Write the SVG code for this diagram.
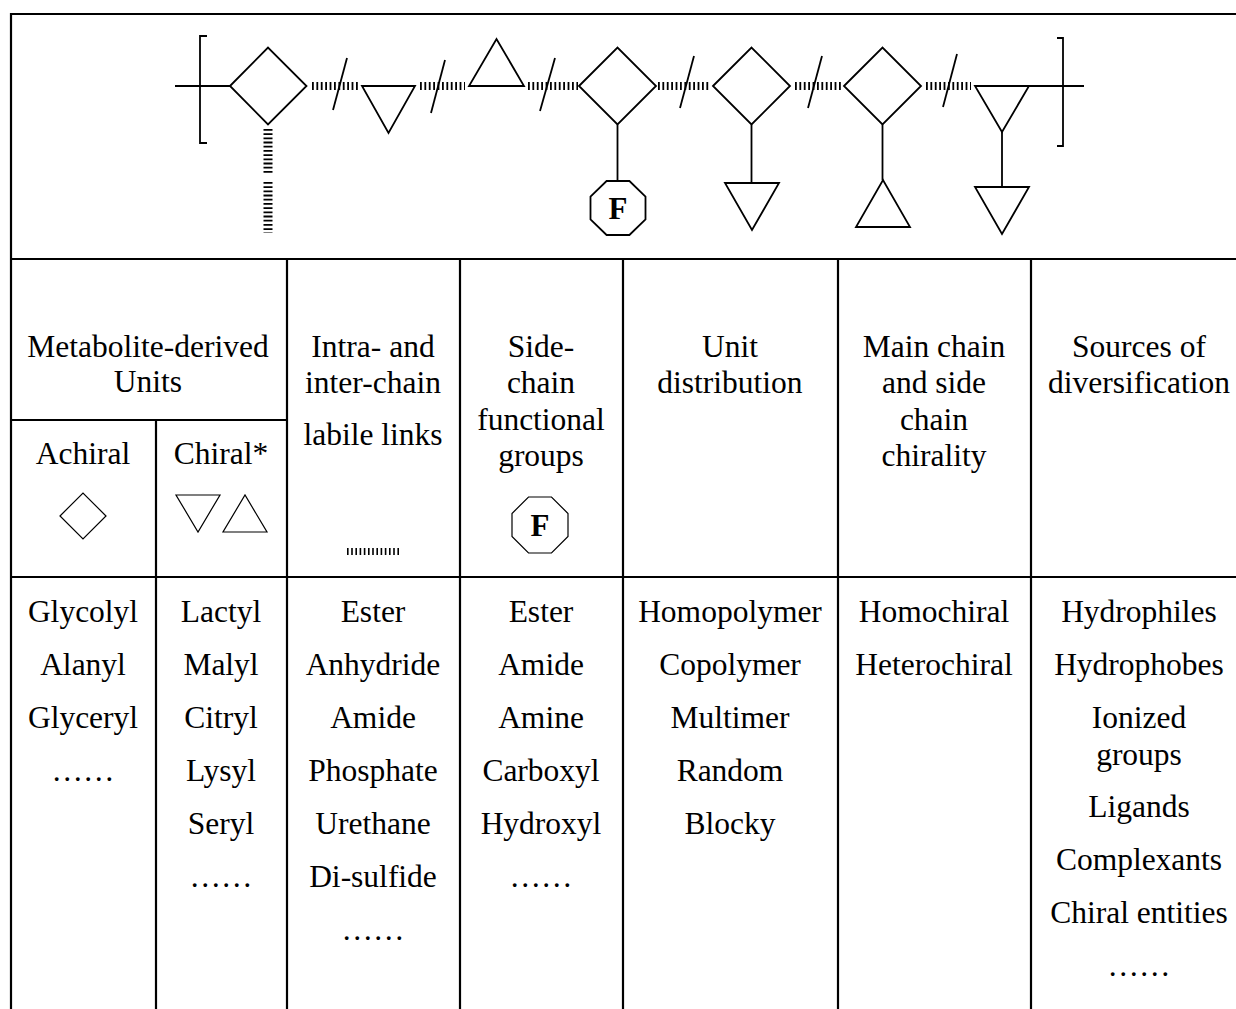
<svg xmlns="http://www.w3.org/2000/svg" width="1236" height="1009" viewBox="0 0 1236 1009">
<style>
.grid{stroke:#000;stroke-width:2.2;fill:none}
.ch{stroke:#000;stroke-width:1.8;fill:none;stroke-linejoin:miter}
.sym{stroke:#000;stroke-width:1.2;fill:none}
.hatch{stroke:#000;stroke-width:8;stroke-dasharray:1.8 2.6;fill:none}
.vhatch{stroke:#000;stroke-width:9;stroke-dasharray:1.8 2.4;fill:none}
.t{font-family:"Liberation Serif","Times New Roman",serif;font-size:31.5px;text-anchor:middle;fill:#000}
.f{font-family:"Liberation Serif","Times New Roman",serif;font-size:31px;font-weight:bold;text-anchor:middle;fill:#000}
</style>
<rect width="1236" height="1009" fill="#fff"/>
<g id="table-grid" class="grid">
<line x1="11" y1="14" x2="1236" y2="14"/>
<line x1="11" y1="13" x2="11" y2="1009"/>
<line x1="11" y1="259" x2="1236" y2="259"/>
<line x1="11" y1="420" x2="287" y2="420"/>
<line x1="11" y1="577" x2="1236" y2="577"/>
<line x1="156" y1="420" x2="156" y2="1009"/>
<line x1="287" y1="259" x2="287" y2="1009"/>
<line x1="460" y1="259" x2="460" y2="1009"/>
<line x1="623" y1="259" x2="623" y2="1009"/>
<line x1="838" y1="259" x2="838" y2="1009"/>
<line x1="1031" y1="259" x2="1031" y2="1009"/>
</g>
<g id="connectors">
<line class="ch" x1="175" y1="86" x2="230" y2="86"/>
<line class="ch" x1="1029" y1="86" x2="1084" y2="86"/>
<line class="hatch" x1="312" y1="86" x2="358" y2="86"/>
<line class="ch" x1="333" y1="110" x2="347" y2="58"/>
<line class="hatch" x1="420" y1="86" x2="465" y2="86"/>
<line class="ch" x1="431" y1="113" x2="445" y2="60"/>
<line class="hatch" x1="528" y1="86" x2="578" y2="86"/>
<line class="ch" x1="540" y1="111" x2="555" y2="58"/>
<line class="hatch" x1="658" y1="86" x2="709" y2="86"/>
<line class="ch" x1="680" y1="108" x2="694" y2="56"/>
<line class="hatch" x1="795" y1="86" x2="841" y2="86"/>
<line class="ch" x1="808" y1="108" x2="822" y2="56"/>
<line class="hatch" x1="926" y1="86" x2="971" y2="86"/>
<line class="ch" x1="943" y1="107" x2="957" y2="54"/>
<line class="vhatch" x1="268" y1="129" x2="268" y2="174"/>
<line class="vhatch" x1="268" y1="182" x2="268" y2="233"/>
<line class="ch" x1="617.5" y1="124.5" x2="617.5" y2="181"/>
<line class="ch" x1="751.5" y1="124.5" x2="751.5" y2="183"/>
<line class="ch" x1="882.5" y1="124.5" x2="882.5" y2="180"/>
<line class="ch" x1="1002" y1="132" x2="1002" y2="187"/>
</g>
<g id="bracket-left"><path class="ch" d="M207,36 H200 V143 H207"/></g>
<g id="bracket-right"><path class="ch" d="M1057,38 H1063 V146 H1057"/></g>
<g id="unit-1"><polygon class="ch" points="230,86 268,47.5 306.5,86 268,124.5"/></g>
<g id="unit-2"><polygon class="ch" points="362,86 415,86 388.5,133"/></g>
<g id="unit-3"><polygon class="ch" points="469,86 524,86 496.5,39"/></g>
<g id="unit-4"><polygon class="ch" points="579,86 617.5,47.5 656,86 617.5,124.5"/></g>
<g id="side-f">
<polygon class="ch" points="606.6,181 629.4,181 645.5,196.6 645.5,219.4 629.4,235 606.6,235 590.5,219.4 590.5,196.6"/>
<text class="f" x="618" y="219">F</text>
</g>
<g id="unit-5"><polygon class="ch" points="713,86 751.5,47.5 790,86 751.5,124.5"/></g>
<g id="side-5"><polygon class="ch" points="725,183 779,183 752,230"/></g>
<g id="unit-6"><polygon class="ch" points="844,86 882.5,47.5 921,86 882.5,124.5"/></g>
<g id="side-6"><polygon class="ch" points="856,227 910,227 883,180"/></g>
<g id="unit-7"><polygon class="ch" points="975,86 1029,86 1002,132"/></g>
<g id="side-7"><polygon class="ch" points="975,187 1029,187 1002,234"/></g>

<g id="hdr-units"><text class="t" x="148" y="357">Metabolite-derived</text><text class="t" x="148" y="392">Units</text></g>
<g id="hdr-achiral"><text class="t" x="83" y="464">Achiral</text><polygon class="sym" points="60,516 83,493 106,516 83,539"/></g>
<g id="hdr-chiral"><text class="t" x="221" y="464">Chiral*</text><polygon class="sym" points="176,495 220,495 198,532"/><polygon class="sym" points="223,532 267,532 245,495"/></g>
<g id="hdr-links"><text class="t" x="373" y="357">Intra- and</text><text class="t" x="373" y="393">inter-chain</text><text class="t" x="373" y="445">labile links</text><line stroke="#000" stroke-width="7" stroke-dasharray="1.6 2.6" x1="347" y1="551.5" x2="400" y2="551.5"/></g>
<g id="hdr-side"><text class="t" x="541" y="357">Side-</text><text class="t" x="541" y="393">chain</text><text class="t" x="541" y="430">functional</text><text class="t" x="541" y="466">groups</text>
<polygon class="sym" points="528.5,497 551.5,497 568,513.5 568,536.5 551.5,553 528.5,553 512,536.5 512,513.5"/><text class="f" x="540" y="536">F</text></g>
<g id="hdr-dist"><text class="t" x="730" y="357">Unit</text><text class="t" x="730" y="393">distribution</text></g>
<g id="hdr-chirality"><text class="t" x="934" y="357">Main chain</text><text class="t" x="934" y="393">and side</text><text class="t" x="934" y="430">chain</text><text class="t" x="934" y="466">chirality</text></g>
<g id="hdr-sources"><text class="t" x="1139" y="357">Sources of</text><text class="t" x="1139" y="393">diversification</text></g>

<g id="col-achiral"><text class="t" x="83" y="622">Glycolyl</text><text class="t" x="83" y="675">Alanyl</text><text class="t" x="83" y="728">Glyceryl</text><text class="t" x="83" y="781">……</text></g>
<g id="col-chiral"><text class="t" x="221" y="622">Lactyl</text><text class="t" x="221" y="675">Malyl</text><text class="t" x="221" y="728">Citryl</text><text class="t" x="221" y="781">Lysyl</text><text class="t" x="221" y="834">Seryl</text><text class="t" x="221" y="887">……</text></g>
<g id="col-links"><text class="t" x="373" y="622">Ester</text><text class="t" x="373" y="675">Anhydride</text><text class="t" x="373" y="728">Amide</text><text class="t" x="373" y="781">Phosphate</text><text class="t" x="373" y="834">Urethane</text><text class="t" x="373" y="887">Di-sulfide</text><text class="t" x="373" y="940">……</text></g>
<g id="col-side"><text class="t" x="541" y="622">Ester</text><text class="t" x="541" y="675">Amide</text><text class="t" x="541" y="728">Amine</text><text class="t" x="541" y="781">Carboxyl</text><text class="t" x="541" y="834">Hydroxyl</text><text class="t" x="541" y="887">……</text></g>
<g id="col-dist"><text class="t" x="730" y="622">Homopolymer</text><text class="t" x="730" y="675">Copolymer</text><text class="t" x="730" y="728">Multimer</text><text class="t" x="730" y="781">Random</text><text class="t" x="730" y="834">Blocky</text></g>
<g id="col-chirality"><text class="t" x="934" y="622">Homochiral</text><text class="t" x="934" y="675">Heterochiral</text></g>
<g id="col-sources"><text class="t" x="1139" y="622">Hydrophiles</text><text class="t" x="1139" y="675">Hydrophobes</text><text class="t" x="1139" y="728">Ionized</text><text class="t" x="1139" y="765">groups</text><text class="t" x="1139" y="817">Ligands</text><text class="t" x="1139" y="870">Complexants</text><text class="t" x="1139" y="923">Chiral entities</text><text class="t" x="1139" y="976">……</text></g>
</svg>
